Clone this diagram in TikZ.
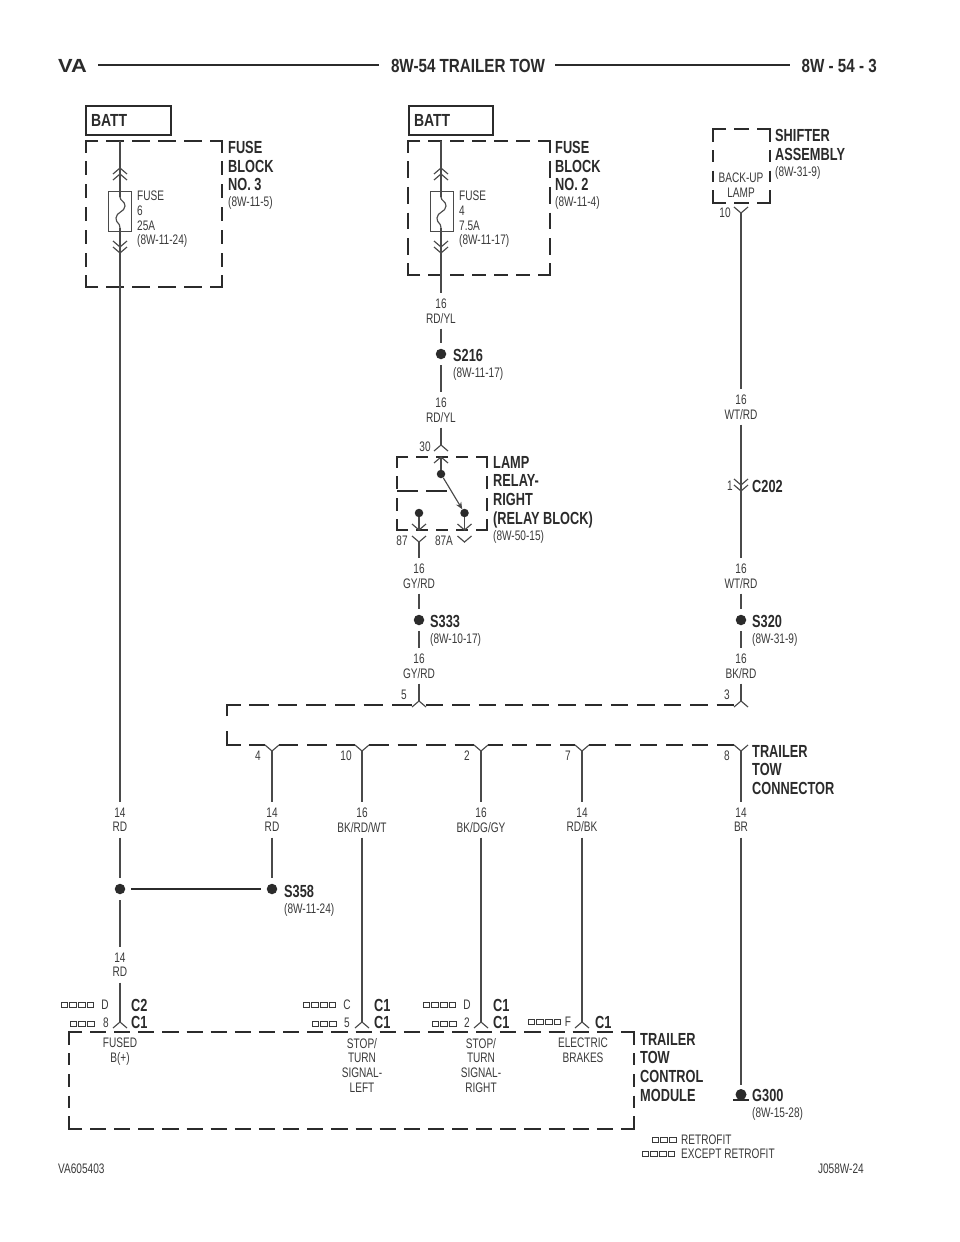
\documentclass[tikz,border=0pt]{standalone}
\usepackage{fontspec}
\usetikzlibrary{arrows.meta}
\setmainfont{Liberation Sans}
\newfontfamily\narrowf[FakeStretch=0.73]{Liberation Sans}
\newfontfamily\narrowb[FakeStretch=0.8]{Liberation Sans Bold}
\newfontfamily\labelb[FakeStretch=0.73]{Liberation Sans Bold}
\newfontfamily\wideb[FakeStretch=1.15]{Liberation Sans Bold}
\definecolor{ink}{HTML}{2B2B2B}
\definecolor{wirec}{HTML}{4A4A4A}
\definecolor{txt}{HTML}{3A3A3A}
\newcommand\fitdash[6]{%
  \pgfmathsetmacro\fdL{veclen(#3-#1,#4-#2)}%
  \pgfmathsetmacro\fdN{max(1,round((\fdL+#6)/(#5+#6)))}%
  \pgfmathsetmacro\fdD{(\fdL-(\fdN-1)*#6)/\fdN}%
  \draw[dash pattern=on \fdD pt off #6pt] (#1,#2)--(#3,#4);}
\newcommand\dbox[5]{%
  \begin{scope}[heavy]
  \draw (#1+#5,#2)--(#1,#2)--(#1,#2+#5);
  \draw (#3-#5,#2)--(#3,#2)--(#3,#2+#5);
  \draw (#1+#5,#4)--(#1,#4)--(#1,#4-#5);
  \draw (#3-#5,#4)--(#3,#4)--(#3,#4-#5);
  \pgfmathsetmacro\dbxa{#1+#5+8}\pgfmathsetmacro\dbxb{#3-#5-8}%
  \pgfmathsetmacro\dbya{#2+#5+8}\pgfmathsetmacro\dbyb{#4-#5-8}%
  \fitdash{\dbxa}{#2}{\dbxb}{#2}{16}{8}
  \fitdash{\dbxa}{#4}{\dbxb}{#4}{16}{8}
  \fitdash{#1}{\dbya}{#1}{\dbyb}{16}{9}
  \fitdash{#3}{\dbya}{#3}{\dbyb}{16}{9}
  \end{scope}}
\newcommand\sqrow[3]{\foreach \sqi in {1,...,#3}{\draw[squarec] (#1+\sqi*8.8-8.8,#2-2.5) rectangle ++(6.3,5);}}
\tikzset{
  x=1pt,y=-1pt,
  heavy/.style={draw=ink,line width=2.6pt,line cap=butt,line join=miter},
  thinrun/.style={draw=ink,line width=1.2pt},
  wire/.style={draw=wirec,line width=1.15pt},
  bridge/.style={draw=ink,line width=2.6pt},
  squarec/.style={draw=txt,line width=.7pt},
  dotn/.style={circle,fill=ink,inner sep=0pt,minimum size=10.5pt,outer sep=6pt},
  rdot/.style={circle,fill=ink,inner sep=0pt,minimum size=8.5pt},
  small/.style={inner sep=0pt,text=txt,font=\narrowf\fontsize{13.8}{14.6}\selectfont},
  smallc/.style={small,align=center,anchor=north,yshift=.5pt},
  smalll/.style={small,align=left,anchor=north west,yshift=.5pt},
  num/.style={small,anchor=center},
  wl/.style={small,align=center,minimum height=35pt,execute at end node=\vphantom{/}},
  bold/.style={inner sep=0pt,text=ink,align=left,anchor=north west,font=\labelb\fontsize{17.5}{18.6}\selectfont},
  bold2/.style={bold,font=\labelb\fontsize{17.5}{17}\selectfont},
  chevup/.pic={\draw[wire] (-7,6)--(0,0)--(7,6);},
  chevdn/.pic={\draw[wire] (-7,-6)--(0,0)--(7,-6);},
  fusewave/.pic={\draw[wire] (0,-14) .. controls (0,-10) and (5,-10) .. (5,-5) .. controls (5,1) and (-4,1) .. (-4,7) .. controls (-4,13) and (0,11) .. (0,17);},
  fusebox/.style={draw=wirec,line width=1pt,minimum width=23pt,minimum height=40pt,inner sep=0pt},
  battbox/.style={draw=ink,line width=2pt,inner sep=5pt,font=\narrowb\fontsize{17.5}{18}\selectfont,text=ink,minimum height=29pt,text depth=0pt,align=left},
}
\begin{document}
\begin{tikzpicture}
\useasboundingbox[fill=white] (0,0) rectangle (960,1242);
% header
\node[inner sep=0pt,text=ink,font=\wideb\fontsize{19}{20}\selectfont] (va) at (72.5,66) {VA};
\node[inner sep=0pt,text=ink,font=\narrowb\fontsize{19}{20}\selectfont] (title) at (468,66) {8W-54 TRAILER TOW};
\node[inner sep=0pt,text=ink,font=\narrowb\fontsize{19}{20}\selectfont,anchor=east] (page) at (877,66) {8W - 54 - 3};
\coordinate (hl1) at (98,65); \coordinate (hr1) at (379,65);
\coordinate (hl2) at (555,65); \coordinate (hr2) at (790,65);
\draw[draw=ink,line width=2pt] (hl1)--(hr1);
\draw[draw=ink,line width=2pt] (hl2)--(hr2);
% batt
\node[battbox,minimum width=85pt,text width=75pt] (batt1) at (128.5,120.5) {BATT};
\node[battbox,minimum width=84pt,text width=74pt] (batt2) at (451,120.5) {BATT};
% dashed blocks
\dbox{86}{141}{222}{287}{12}
\dbox{408}{141}{550}{275}{12}
\dbox{713}{129}{770}{203}{13}
\dbox{397}{457}{487}{530}{11}
\dbox{69}{1032}{634}{1129}{13}
% fuse 6
\coordinate (fa1) at (120,141);
\node[fusebox] (fuse1) at (119.5,211) {};
\coordinate (ft1) at (120,197); \coordinate (fb1) at (120,228);
\node[dotn] (j1) at (120,889) {};
\node[wl] (w14a) at (120,820) {14\\RD};
\node[wl] (w14b) at (120,965) {14\\RD};
\coordinate (c1) at (120,1022);
\draw[wire] (fa1)--(ft1);
\pic at (120,211) {fusewave};
\draw[wire] (fb1)--(w14a.north);
\draw[wire] (w14a.south)--(j1);
\draw[wire] (j1)--(w14b.north);
\draw[wire] (w14b.south)--(c1);
\pic at (120,168) {chevup}; \pic at (120,174) {chevup};
\pic at (120,247) {chevdn}; \pic at (120,253) {chevdn};
\node[smalll] (f1t) at (137,191.5) {FUSE\\6\\25A\\(8W-11-24)};
\node[bold] (fb3) at (228,141) {FUSE\\BLOCK\\NO. 3};
\node[smalll] (fb3r) at (228,196.5) {(8W-11-5)};
% fuse 4
\coordinate (fa2) at (441,141);
\node[fusebox] (fuse2) at (441.5,211) {};
\coordinate (ft2) at (441,197); \coordinate (fb2) at (441,228);
\node[wl] (w16a) at (441,311) {16\\RD/YL};
\node[dotn] (s216) at (441,354) {};
\node[wl] (w16b) at (441,410) {16\\RD/YL};
\coordinate (c30) at (441,445);
\draw[wire] (fa2)--(ft2);
\pic at (441,211) {fusewave};
\draw[wire] (fb2)--(w16a.north);
\draw[wire] (w16a.south)--(s216);
\draw[wire] (s216)--(w16b.north);
\draw[wire] (w16b.south)--(c30);
\pic at (441,168) {chevup}; \pic at (441,174) {chevup};
\pic at (441,247) {chevdn}; \pic at (441,253) {chevdn};
\node[smalll] (f2t) at (459,191.5) {FUSE\\4\\7.5A\\(8W-11-17)};
\node[bold] (fb2l) at (555,141) {FUSE\\BLOCK\\NO. 2};
\node[smalll] (fb2r) at (555,196.5) {(8W-11-4)};
\node[bold] (s216t) at (453,349) {S216};
\node[smalll] (s216r) at (453,368) {(8W-11-17)};
% relay
\pic at (441,445) {chevup};
\pic at (441,457) {chevup};
\node[rdot] (rc) at (441,474) {};
\node[rdot] (rb) at (464.5,513) {};
\node[rdot] (ra) at (419,513) {};
\coordinate (r87) at (419,530); \coordinate (r87a) at (464.5,530);
\coordinate (r30) at (441,457);
\draw[wire] (r30)--(rc);
\draw[wire,-{Stealth[length=7pt,width=6pt]}] (rc)--(rb);
\draw[wire] (ra)--(r87);
\draw[wire] (rb)--(r87a);
\pic at (419,530) {chevdn}; \pic at (464.5,530) {chevdn};
\pic at (464.5,542) {chevdn};
\begin{scope}[draw=ink,line width=1.2pt]
\fitdash{397}{491}{447}{491}{16}{8}
\end{scope}
\node[num] (n30) at (425,447) {30};
\node[num] (n87) at (402,540.5) {87};
\node[num] (n87a) at (444,540.5) {87A};
\node[bold] (lamp) at (493,456) {LAMP\\RELAY-\\RIGHT\\(RELAY BLOCK)};
\node[smalll] (lampr) at (493,530.5) {(8W-50-15)};
% 87 down
\coordinate (t87) at (419,542);
\pic at (419,542) {chevdn};
\node[wl] (gy1) at (419,576) {16\\GY/RD};
\node[dotn] (s333) at (419,620) {};
\node[wl] (gy2) at (419,666) {16\\GY/RD};
\coordinate (c5) at (419,701);
\draw[wire] (t87)--(gy1.north);
\draw[wire] (gy1.south)--(s333);
\draw[wire] (s333)--(gy2.north);
\draw[wire] (gy2.south)--(c5);
\node[bold] (s333t) at (430,615) {S333};
\node[smalll] (s333r) at (430,633.5) {(8W-10-17)};
\node[num] (n5) at (404,695) {5};
% shifter
\node[smallc] (backup) at (741,173.5) {BACK-UP\\LAMP};
\node[bold] (shift) at (775,129) {SHIFTER\\ASSEMBLY};
\node[smalll] (shiftr) at (775,166.5) {(8W-31-9)};
\pic at (741,213) {chevdn};
\coordinate (c10) at (741,213);
\node[num] (n10a) at (725,213) {10};
\node[wl] (wt1) at (741,407) {16\\WT/RD};
\node[wl] (wt2) at (741,576) {16\\WT/RD};
\node[dotn] (s320) at (741,620) {};
\node[wl] (bk) at (741,666) {16\\BK/RD};
\coordinate (c3) at (741,701);
\draw[wire] (c10)--(wt1.north);
\draw[wire] (wt1.south)--(wt2.north);
\draw[wire] (wt2.south)--(s320);
\draw[wire] (s320)--(bk.north);
\draw[wire] (bk.south)--(c3);
\pic at (741,485) {chevdn}; \pic at (741,491) {chevdn};
\node[num] (n1) at (730,486) {1};
\node[bold] (c202) at (752,480) {C202};
\node[bold] (s320t) at (752,615) {S320};
\node[smalll] (s320r) at (752,633.5) {(8W-31-9)};
\node[num] (n3) at (727,695) {3};
% tow connector
\pic at (419,701) {chevup}; \pic at (741,701) {chevup};
\begin{scope}[thinrun]
\draw (227,716)--(227,705)--(241,705);
\draw (227,731)--(227,745)--(241,745);
\fitdash{249}{705}{412}{705}{18}{9}
\fitdash{426}{705}{734}{705}{18}{9}
\fitdash{249}{745}{265}{745}{16}{9}
\fitdash{279}{745}{355}{745}{18}{9}
\fitdash{369}{745}{474}{745}{18}{9}
\fitdash{488}{745}{575}{745}{18}{9}
\fitdash{589}{745}{734}{745}{18}{9}
\end{scope}
\pic at (272,751) {chevdn}; \pic at (362,751) {chevdn}; \pic at (481,751) {chevdn}; \pic at (582,751) {chevdn}; \pic at (741,751) {chevdn};
\coordinate (c4) at (272,751); \coordinate (c10b) at (362,751); \coordinate (c2) at (481,751); \coordinate (c7) at (582,751); \coordinate (c8) at (741,751);
\node[num] (n4) at (258,756) {4};
\node[num] (n10b) at (346,756) {10};
\node[num] (n2) at (467,756) {2};
\node[num] (n7) at (568,756) {7};
\node[num] (n8) at (727,756) {8};
\node[bold] (ttc) at (752,745) {TRAILER\\TOW\\CONNECTOR};
\node[wl] (wa) at (272,820) {14\\RD};
\node[wl] (wb) at (362,820) {16\\BK/RD/WT};
\node[wl] (wc) at (481,820) {16\\BK/DG/GY};
\node[wl] (wd) at (582,820) {14\\RD/BK};
\node[wl] (we) at (741,820) {14\\BR};
\node[dotn] (s358) at (272,889) {};
\coordinate (cb) at (362,1022); \coordinate (cc) at (481,1022); \coordinate (cd) at (582,1022);
\coordinate (g) at (741,1085);
\draw[wire] (c4)--(wa.north); \draw[wire] (wa.south)--(s358);
\draw[wire] (c10b)--(wb.north); \draw[wire] (wb.south)--(cb);
\draw[wire] (c2)--(wc.north); \draw[wire] (wc.south)--(cc);
\draw[wire] (c7)--(wd.north); \draw[wire] (wd.south)--(cd);
\draw[wire] (c8)--(we.north); \draw[wire] (we.south)--(g);
\draw[bridge] (j1)--(s358);
\node[bold] (s358t) at (284,885) {S358};
\node[smalll] (s358r) at (284,904) {(8W-11-24)};
% ground
\node[rdot,minimum size=11pt] (gdot) at (741,1094.5) {};
\coordinate (gl) at (733,1100); \coordinate (gr) at (749,1100);
\draw[draw=ink,line width=1.6pt] (gl)--(gr);
\node[bold] (g300) at (752,1089) {G300};
\node[smalll] (g300r) at (752,1107.5) {(8W-15-28)};
% module connectors
\pic at (120,1022) {chevup}; \pic at (362,1022) {chevup}; \pic at (481,1022) {chevup}; \pic at (582,1022) {chevup};
\sqrow{61}{1005}{4} \sqrow{70}{1024}{3}
\sqrow{303}{1005}{4} \sqrow{312}{1024}{3}
\sqrow{423}{1005}{4} \sqrow{432}{1024}{3}
\sqrow{528}{1022}{4}
\node[num] (d1) at (105,1005) {D};
\node[num] (e8) at (106,1023) {8};
\node[num] (d2) at (347,1005) {C};
\node[num] (e5) at (347,1023) {5};
\node[num] (d3) at (467,1005) {D};
\node[num] (e2) at (467,1023) {2};
\node[num] (d4) at (568,1022) {F};
\node[bold2] (k1) at (131,999) {C2\\C1};
\node[bold2] (k2) at (374,999) {C1\\C1};
\node[bold2] (k3) at (493,999) {C1\\C1};
\node[bold] (k4) at (595,1016) {C1};
\node[smallc] (m1) at (120,1038.5) {FUSED\\B(+)};
\node[smallc] (m2) at (362,1038.5) {STOP/\\TURN\\SIGNAL-\\LEFT};
\node[smallc] (m3) at (481,1038.5) {STOP/\\TURN\\SIGNAL-\\RIGHT};
\node[smallc] (m4) at (583,1038.5) {ELECTRIC\\BRAKES};
\node[bold] (ttm) at (640,1033) {TRAILER\\TOW\\CONTROL\\MODULE};
% legend
\sqrow{652}{1140}{3} \sqrow{642}{1154}{4}
\node[smalll] (lg1) at (681,1135.5) {RETROFIT};
\node[smalll] (lg2) at (681,1149.5) {EXCEPT RETROFIT};
\node[smalll] (fl) at (58,1164.5) {VA605403};
\node[small,anchor=north east] (fr) at (864,1164) {J058W-24};
\end{tikzpicture}
\end{document}
